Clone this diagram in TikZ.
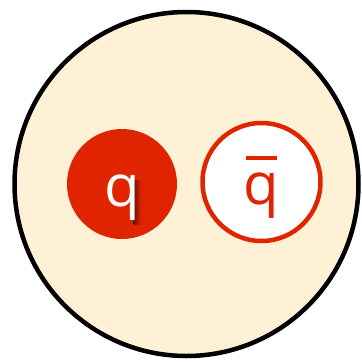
\documentclass[tikz,border=0pt]{standalone}
\usepackage{fontspec}
\setmainfont{Open Sans}
\definecolor{cream}{HTML}{FFF1D6}
\definecolor{qred}{HTML}{E02400}
\begin{document}
\begin{tikzpicture}[x=1pt,y=-1pt,
  outer/.style={circle,draw=black,line width=4.5pt,fill=cream,minimum size=344pt,inner sep=0pt},
  quark/.style={circle,fill=qred,minimum size=110pt,inner sep=0pt},
  antiquark/.style={circle,draw=qred,line width=4.5pt,fill=white,minimum size=118pt,inner sep=0pt},
  qtext/.style={font=\fontsize{58}{60}\selectfont,inner sep=0pt,anchor=base},
  shadowbar/.style={left color=qred!50!black,right color=qred,draw=none}]
\useasboundingbox (0,0) rectangle (362,362);
\node[outer] (bag) at (186.5,184) {};
\node[quark] (q) at (122,184) {};
\node[antiquark] (qb) at (261.5,182) {};
\shade[shadowbar] (133.5,180) rectangle (141,224);
\node[qtext,text=white] (qt) at (122,206) {q};
\node[qtext,text=qred] (qbt) at (261,204) {\ooalign{q\cr\hidewidth\rule[44pt]{31pt}{4.5pt}\hidewidth\cr}};
\end{tikzpicture}
\end{document}
